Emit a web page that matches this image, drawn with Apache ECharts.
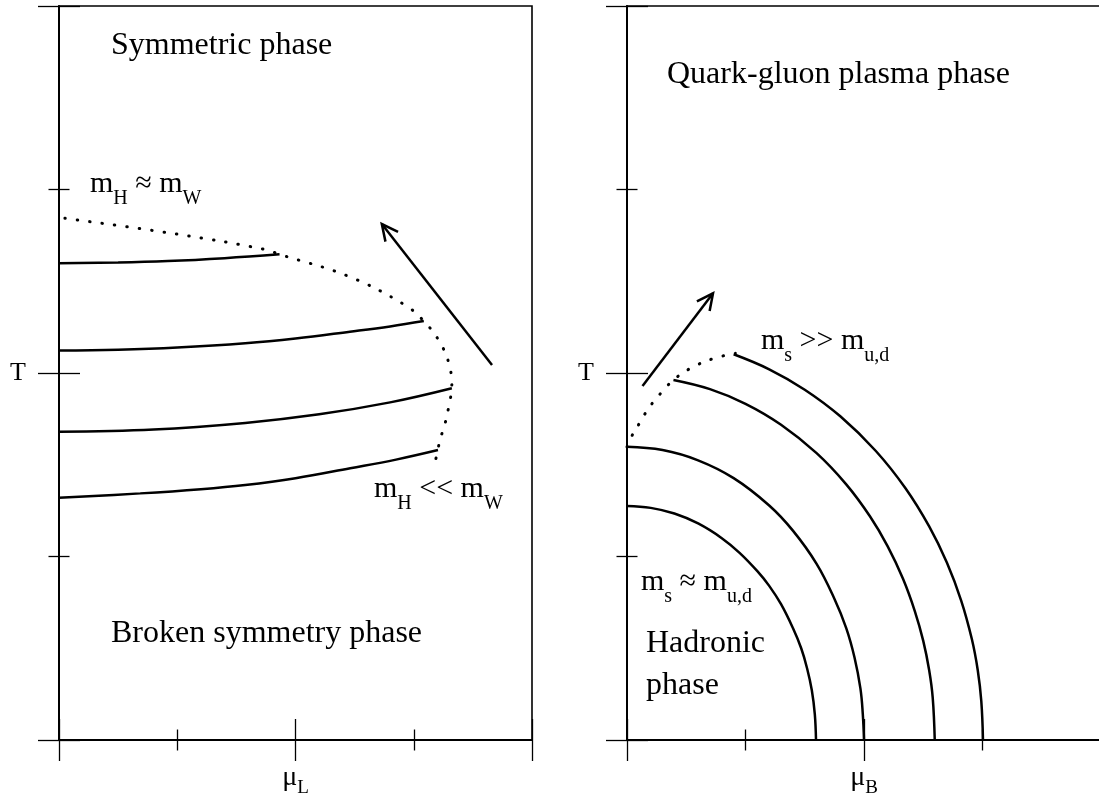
<!DOCTYPE html>
<html>
<head>
<meta charset="utf-8">
<script src="https://cdn.jsdelivr.net/npm/echarts@6/dist/echarts.min.js"></script>
<style>
html,body{margin:0;padding:0;background:#fff;overflow:hidden;}
#chart{width:1099px;height:804px;}
</style>
</head>
<body>
<div id="chart"></div>
<script>
// ---------- data ----------
// Left panel: electroweak, T vs mu_L
const leftSolid1 = [[0,2.598],[0.5,2.602],[0.92,2.610],[1.4,2.626],[1.865,2.647]];
const leftSolid2 = [[0,2.122],[0.5,2.127],[1.0,2.139],[1.575,2.162],[2.0,2.188],[2.46,2.225],[2.8,2.254],[3.085,2.283]];
const leftSolid3 = [[0,1.680],[0.8,1.692],[1.575,1.728],[2.2,1.775],[2.8,1.840],[3.322,1.917]];
const leftSolid4 = [[0,1.320],[0.687,1.344],[1.2,1.367],[1.575,1.390],[2.0,1.427],[2.463,1.481],[2.85,1.528],[3.205,1.580]];
const leftDotted = [[0.05,2.843],[1.006,2.756],[1.738,2.674],[1.865,2.647],[2.448,2.527],[2.922,2.372],[3.085,2.283],[3.218,2.171],[3.298,2.053],[3.318,1.98],[3.322,1.917],[3.307,1.853],[3.262,1.717],[3.227,1.647],[3.203,1.580],[3.182,1.517]];
const leftArrow = [[3.662,2.044,2.730,2.812]];

// Right panel: QCD, T vs mu_B
const rightArc1 = [[0,1.275],[0.2,1.265],[0.4,1.234],[0.6,1.18],[0.8,1.10],[0.95,1.02],[1.1,0.92],[1.2,0.84],[1.3,0.74],[1.4,0.61],[1.47,0.50],[1.52,0.39],[1.56,0.27],[1.585,0.14],[1.595,0]];
const rightArc2 = [[0,1.598],[0.3,1.58],[0.6,1.524],[0.9,1.427],[1.2,1.278],[1.4,1.141],[1.6,0.96],[1.75,0.77],[1.85,0.61],[1.92,0.45],[1.97,0.28],[1.99,0.14],[2.0,0]];
const rightArc3 = [[0.392,1.962],[0.7,1.912],[1.0,1.832],[1.3,1.718],[1.6,1.563],[1.85,1.393],[2.05,1.219],[2.2,1.055],[2.33,0.877],[2.43,0.70],[2.5,0.54],[2.55,0.38],[2.58,0.23],[2.597,0]];
const rightArc4 = [[0.9,2.102],[1.2,2.02],[1.5,1.909],[1.8,1.764],[2.1,1.575],[2.35,1.372],[2.55,1.164],[2.7,0.966],[2.82,0.76],[2.91,0.55],[2.96,0.38],[2.99,0.21],[3.004,0]];
const rightDotted = [[0,1.598],[0.052,1.671],[0.108,1.729],[0.160,1.786],[0.224,1.844],[0.290,1.893],[0.392,1.962],[0.537,2.026],[0.734,2.080],[0.914,2.107]];
const rightArrow = [[0.131,1.929,0.726,2.434]];

// axis range and tick labels
const axisMin = 0, axisMax = 4, majorStep = 2;
const yTickLabel = {2: 'T'};
const leftXTickLabel = {2: ['μ','L']};
const rightXTickLabel = {2: ['μ','B']};

// annotation texts
const txtSym = 'Symmetric phase';
const txtBroken = 'Broken symmetry phase';
const txtQGP = 'Quark-gluon plasma phase';
const txtHad1 = 'Hadronic', txtHad2 = 'phase';

// ---------- chart ----------
const FONT = "'Liberation Serif','DejaVu Serif',serif";
const chart = echarts.init(document.getElementById('chart'));

function axis(kind, grid, inside, labelFmt) {
  const a = {
    type: 'value', gridIndex: grid, min: axisMin, max: axisMax, interval: majorStep,
    position: kind === 'x' ? 'bottom' : 'left',
    axisLine: {show: !inside, onZero: false, lineStyle: {color: '#000', width: 2}},
    axisTick: {show: true, inside: inside, length: 21, lineStyle: {color: '#000', width: 1.3}},
    minorTick: {show: true, splitNumber: 2, length: 10.5, lineStyle: {color: '#000', width: 1.3}},
    splitLine: {show: false}, minorSplitLine: {show: false},
    axisLabel: {show: false}
  };
  if (labelFmt) a.axisLabel = labelFmt;
  return a;
}
const mathRich = {
  a: {fontFamily: FONT, fontSize: 28, lineHeight: 30, verticalAlign: 'top', color: '#000'},
  b: {fontFamily: FONT, fontSize: 19, lineHeight: 19, verticalAlign: 'top', padding: [15,0,0,0], color: '#000'}
};
function xLabel(map) {
  return {show: true, margin: 24, interval: 0, showMinLabel: true, showMaxLabel: true,
    formatter: v => map[v] ? '{a|' + map[v][0] + '}{b|' + map[v][1] + '}' : '',
    rich: mathRich};
}
const yLabel = {show: true, margin: 33, interval: 0, fontFamily: FONT, fontSize: 26, color: '#000',
  formatter: v => yTickLabel[v] || ''};

function solid(data, g) {
  return {type: 'line', data: data, xAxisIndex: 2*g, yAxisIndex: 2*g, smooth: 0.4, showSymbol: false,
    silent: true, clip: false, lineStyle: {color: '#000', width: 2.5}, z: 5};
}
function dotted(data, g) {
  return {type: 'line', data: data, xAxisIndex: 2*g, yAxisIndex: 2*g, smooth: 0.4, showSymbol: false,
    silent: true, clip: false, lineStyle: {color: '#000', width: 3, type: [0.5, 12], cap: 'round'}, z: 5};
}
function arrow(data, g) {
  return {type: 'custom', data: data, xAxisIndex: 2*g, yAxisIndex: 2*g, silent: true, z: 6,
    encode: {x: [0, 2], y: [1, 3]},
    renderItem: function (params, api) {
      const p1 = api.coord([api.value(0), api.value(1)]);
      const p2 = api.coord([api.value(2), api.value(3)]);
      const ang = Math.atan2(p1[1] - p2[1], p1[0] - p2[0]);
      const L = 18, h = 0.46;
      const a1 = [p2[0] + L*Math.cos(ang + h), p2[1] + L*Math.sin(ang + h)];
      const a2 = [p2[0] + L*Math.cos(ang - h), p2[1] + L*Math.sin(ang - h)];
      return {type: 'group', children: [
        {type: 'line', shape: {x1: p1[0], y1: p1[1], x2: p2[0], y2: p2[1]}, style: {stroke: '#000', lineWidth: 2.5}},
        {type: 'polyline', shape: {points: [a1, p2, a2]}, style: {stroke: '#000', lineWidth: 2.5, fill: null}}
      ]};
    }};
}

const labRich = {
  m: {fontFamily: FONT, fontSize: 30, lineHeight: 32, verticalAlign: 'top', color: '#000'},
  s: {fontFamily: FONT, fontSize: 20, lineHeight: 20, verticalAlign: 'top', padding: [20,0,0,0], color: '#000'}
};
function mathText(x, baseline, parts) {
  const t = '{m|' + parts[0] + '}{s|' + parts[1] + '}{m|' + parts[2] + '}{s|' + parts[3] + '}';
  return {type: 'text', x: x, y: baseline - 26, silent: true,
    style: {text: t, rich: labRich, align: 'left', verticalAlign: 'top'}};
}
function plainText(x, baseline, s) {
  return {type: 'text', x: x, y: baseline - 27, silent: true,
    style: {text: s, fontFamily: FONT, fontSize: 32, lineHeight: 32, fill: '#000', align: 'left', verticalAlign: 'top'}};
}

chart.setOption({
  animation: false,
  backgroundColor: '#fff',
  grid: [
    {left: 59, top: 6, width: 473, height: 734, outerBoundsMode: 'none', containLabel: false,
     show: true, borderColor: '#000', borderWidth: 1.6, backgroundColor: 'transparent'},
    {left: 627, top: 6, width: 474, height: 734, outerBoundsMode: 'none', containLabel: false,
     show: true, borderColor: '#000', borderWidth: 1.6, backgroundColor: 'transparent'}
  ],
  xAxis: [axis('x', 0, false, xLabel(leftXTickLabel)), axis('x', 0, true),
          axis('x', 1, false, xLabel(rightXTickLabel)), axis('x', 1, true)],
  yAxis: [axis('y', 0, false, yLabel), axis('y', 0, true),
          axis('y', 1, false, yLabel), axis('y', 1, true)],
  series: [
    solid(leftSolid1, 0), solid(leftSolid2, 0), solid(leftSolid3, 0), solid(leftSolid4, 0),
    dotted(leftDotted, 0), arrow(leftArrow, 0),
    solid(rightArc1, 1), solid(rightArc2, 1), solid(rightArc3, 1), solid(rightArc4, 1),
    dotted(rightDotted, 1), arrow(rightArrow, 1)
  ],
  graphic: [
    plainText(111, 57, txtSym),
    mathText(90, 195, ['m', 'H', ' ≈ m', 'W']),
    mathText(374, 500, ['m', 'H', ' << m', 'W']),
    plainText(111, 645, txtBroken),
    plainText(667, 86, txtQGP),
    mathText(761, 352, ['m', 's', ' >> m', 'u,d']),
    mathText(641, 593, ['m', 's', ' ≈ m', 'u,d']),
    plainText(646, 655, txtHad1),
    plainText(646, 697, txtHad2)
  ]
});
</script>
</body>
</html>
